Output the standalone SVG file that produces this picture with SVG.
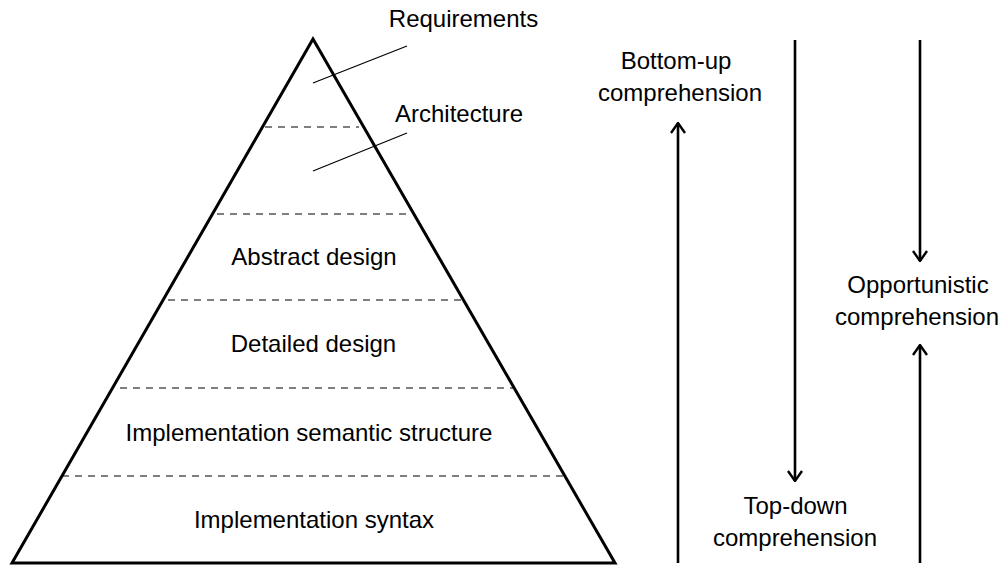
<svg xmlns="http://www.w3.org/2000/svg" width="1000" height="566" viewBox="0 0 1000 566">
<style>
text{font-family:"Liberation Sans","DejaVu Sans",sans-serif;font-size:24px;fill:#000;text-anchor:middle}
.dash{stroke:#000;stroke-width:1.2;stroke-dasharray:7 6;fill:none}
.lead{stroke:#000;stroke-width:1.2;fill:none}
.arr{stroke:#000;stroke-width:2.6;fill:none}
</style>
<defs>
<marker id="ah" viewBox="0 0 12 16" refX="11" refY="8" markerWidth="12" markerHeight="16" markerUnits="userSpaceOnUse" orient="auto">
<path d="M1,1 L11,8 L1,15" fill="none" stroke="#000" stroke-width="2.4"/>
</marker>
</defs>
<g id="pyramid">
<path d="M313,39 L12,563 L615,563 Z" fill="none" stroke="#000" stroke-width="3" stroke-linejoin="miter"/>
<line class="dash" x1="265" y1="127" x2="359" y2="127"/>
<line class="dash" x1="217" y1="214" x2="412" y2="214"/>
<line class="dash" x1="168" y1="300" x2="463" y2="300"/>
<line class="dash" x1="120" y1="388" x2="515" y2="388"/>
<line class="dash" x1="62" y1="476" x2="565" y2="476"/>
</g>
<g id="requirements">
<line class="lead" x1="313" y1="83" x2="407" y2="46"/>
<text x="463.5" y="27">Requirements</text>
</g>
<g id="architecture">
<line class="lead" x1="313" y1="171" x2="407" y2="133"/>
<text x="459" y="122">Architecture</text>
</g>
<g id="abstract"><text x="314" y="265">Abstract design</text></g>
<g id="detailed"><text x="313.5" y="352">Detailed design</text></g>
<g id="semantic"><text x="309" y="441">Implementation semantic structure</text></g>
<g id="syntax"><text x="314" y="528">Implementation syntax</text></g>
<g id="bottomup"><text x="676" y="69">Bottom-up</text><text x="680" y="101">comprehension</text></g>
<g id="topdown"><text x="795.5" y="514">Top-down</text><text x="795" y="546">comprehension</text></g>
<g id="opportunistic"><text x="918" y="293">Opportunistic</text><text x="917" y="325">comprehension</text></g>
<g id="connectors">
<line class="arr" x1="678" y1="563" x2="678" y2="123" marker-end="url(#ah)"/>
<line class="arr" x1="795" y1="40" x2="795" y2="481" marker-end="url(#ah)"/>
<line class="arr" x1="920" y1="40" x2="920" y2="261" marker-end="url(#ah)"/>
<line class="arr" x1="920" y1="563" x2="920" y2="345" marker-end="url(#ah)"/>
</g>
</svg>
